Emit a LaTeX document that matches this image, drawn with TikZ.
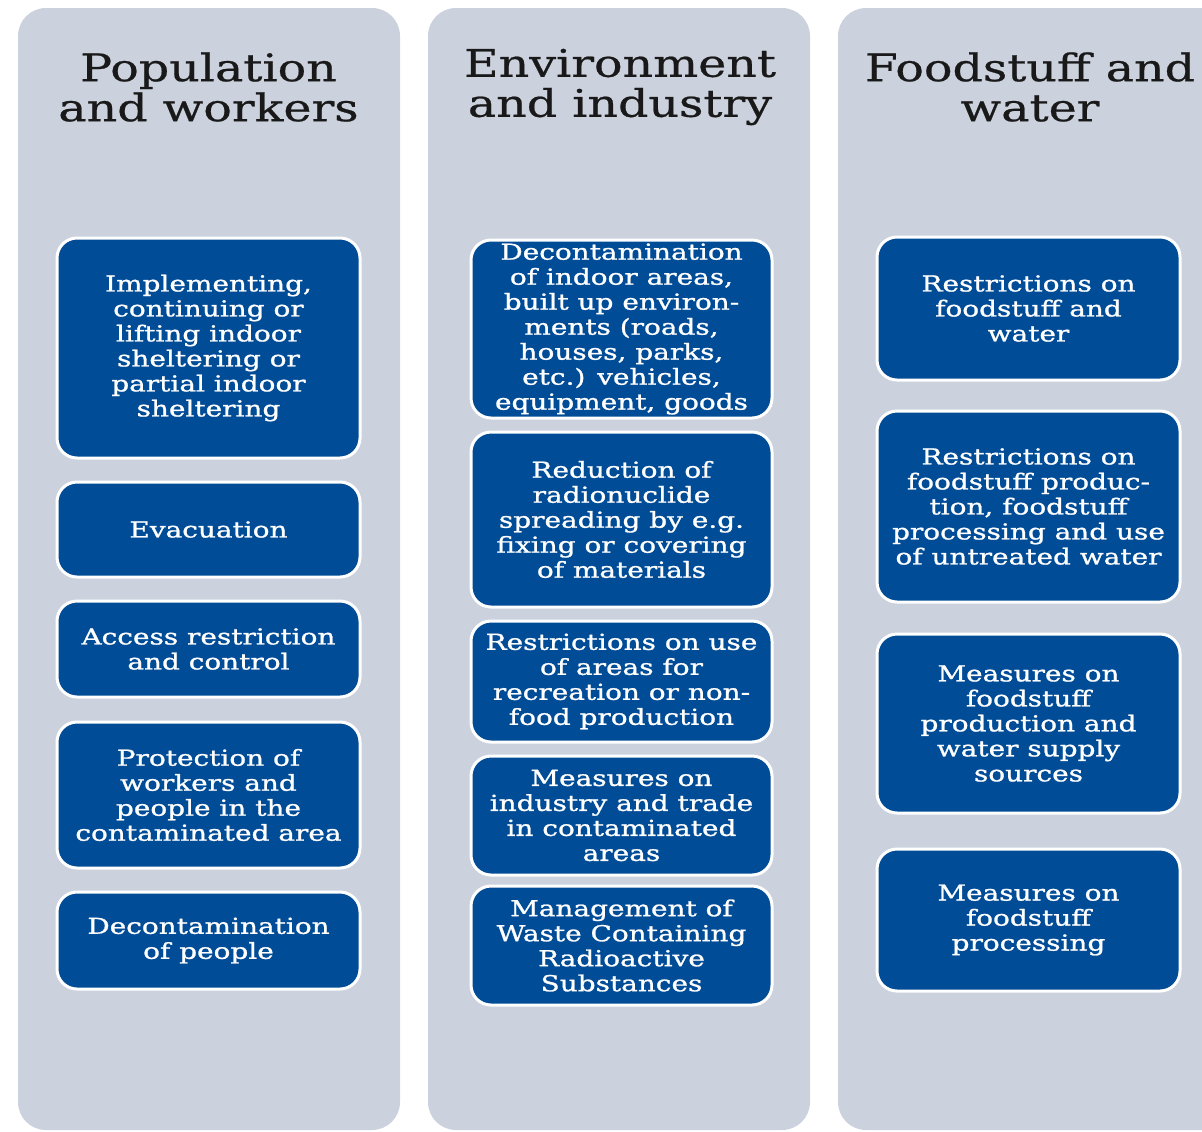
\documentclass[tikz,border=0pt]{standalone}
\usepackage{fontspec}
\setmainfont[FakeStretch=1.25]{DejaVu Serif}
\newfontfamily\headingfont[FakeStretch=1.25,FakeBold=0.6]{DejaVu Serif}
\newfontfamily\measurefont[FakeStretch=1.27,FakeBold=1.1]{DejaVu Serif}
\usetikzlibrary{positioning}

\definecolor{panelgray}{RGB}{203,209,221}
\definecolor{boxblue}{RGB}{0,76,151}
\definecolor{titleink}{RGB}{25,25,25}

\begin{document}
\begin{tikzpicture}[x=0.5pt,y=-0.5pt,
    panel/.style={fill=panelgray, rounded corners=14pt},
    heading/.style={align=center, text=titleink, inner sep=0pt,
        font=\headingfont\fontsize{19}{20}\selectfont},
    measure/.style={draw=white, line width=1.5pt, fill=boxblue,
        rounded corners=10pt, text=white, align=center, inner sep=0pt,
        font=\measurefont\fontsize{11}{12.5}\selectfont}]
    \clip (0,0) rectangle (1202,1131);
    \fill[white] (0,0) rectangle (1202,1131);

    %% the three columns
    \fill[panel] (18,8) rectangle (400,1130);
    \fill[panel] (428,8) rectangle (810,1130);
    \fill[panel] (838,8) rectangle (1230,1130);

    \node[heading] (popt) at (208.5,87) {Population\\and workers};
    \node[heading] (envt) at (620,87) {Environment\\and industry};
    \node[heading] (foodt) at (1030,87) {Foodstuff and\\water};

    %% population and workers
    \node[measure, minimum width=151.5pt, minimum height=110pt] (p1) at (208.5,348)
        {Implementing,\\continuing or\\lifting indoor\\sheltering or\\partial indoor\\sheltering};
    \node[measure, minimum width=151.5pt, minimum height=47.5pt] (p2) at (208.5,529.5)
        {Evacuation};
    \node[measure, minimum width=151.5pt, minimum height=48pt] (p3) at (208.5,649)
        {Access restriction\\and control};
    \node[measure, minimum width=151.5pt, minimum height=73pt] (p4) at (208.5,795)
        {Protection of\\workers and\\people in the\\contaminated area};
    \node[measure, minimum width=151.5pt, minimum height=48.5pt] (p5) at (208.5,940.5)
        {Decontamination\\of people};

    %% environment and industry
    \node[measure, minimum width=150.5pt, minimum height=89pt] (e1) at (621.5,329)
        {Decontamination\\of indoor areas,\\built up environ-\\ments (roads,\\houses, parks,\\etc.) vehicles,\\equipment, goods};
    \node[measure, minimum width=150.5pt, minimum height=87.5pt] (e2) at (621.5,519.5)
        {Reduction of\\radionuclide\\spreading by e.g.\\fixing or covering\\of materials};
    \node[measure, minimum width=150.5pt, minimum height=60.5pt] (e3) at (621.5,681.5)
        {Restrictions on use\\of areas for\\recreation or non-\\food production};
    \node[measure, minimum width=150.5pt, minimum height=59.5pt] (e4) at (621.5,815.5)
        {Measures on\\industry and trade\\in contaminated\\areas};
    \node[measure, minimum width=150.5pt, minimum height=59.5pt] (e5) at (621.5,945.5)
        {Management of\\Waste Containing\\Radioactive\\Substances};

    %% foodstuff and water
    \node[measure, minimum width=151.5pt, minimum height=71.5pt] (f1) at (1028.5,308.5)
        {Restrictions on\\foodstuff and\\water};
    \node[measure, minimum width=151.5pt, minimum height=95.5pt] (f2) at (1028.5,506.5)
        {Restrictions on\\foodstuff produc-\\tion, foodstuff\\processing and use\\of untreated water};
    \node[measure, minimum width=151.5pt, minimum height=89.5pt] (f3) at (1028.5,723.5)
        {Measures on\\foodstuff\\production and\\water supply\\sources};
    \node[measure, minimum width=151.5pt, minimum height=71pt] (f4) at (1028.5,920)
        {Measures on\\foodstuff\\processing};
\end{tikzpicture}
\end{document}
